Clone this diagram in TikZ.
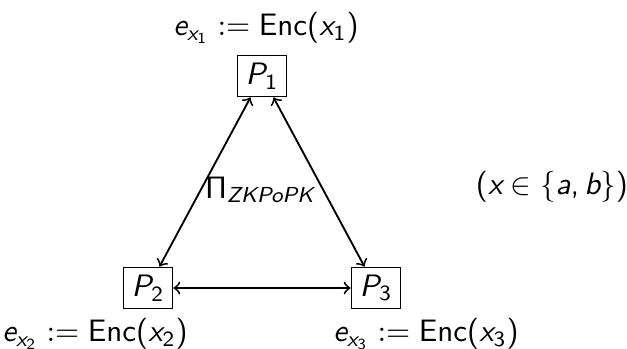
\documentclass[tikz,border=0pt]{standalone}
\usepackage{amsmath}
\newcommand{\sv}[1]{\text{\sffamily\slshape #1}}
\newcommand{\sd}[1]{\text{\sffamily #1}}
\begin{document}
\begin{tikzpicture}[x=0.3226pt,y=-0.3226pt,
  party/.style={draw,line width=0.4pt,minimum width=16pt,minimum height=13.4pt,inner sep=0pt},
  lbl/.style={inner sep=0pt,font=\sffamily},
  conn/.style={<->,semithick}]
\useasboundingbox (0,0) rectangle (627,348);
\node[party] (p1) at (262,76) {$\sv{P}_{\sd{1}}$};
\node[party] (p2) at (148,288) {$\sv{P}_{\sd{2}}$};
\node[party] (p3) at (376,288) {$\sv{P}_{\sd{3}}$};
\node[lbl] (l1) at (266,28) {$\sv{e}_{\sv{x}_{\sd{1}}} := \sd{Enc(}\sv{x}_{\sd{1}}\sd{)}$};
\node[lbl] (l2) at (95,334) {$\sv{e}_{\sv{x}_{\sd{2}}} := \sd{Enc(}\sv{x}_{\sd{2}}\sd{)}$};
\node[lbl] (l3) at (426,334) {$\sv{e}_{\sv{x}_{\sd{3}}} := \sd{Enc(}\sv{x}_{\sd{3}}\sd{)}$};
\node[lbl] (pi) at (260,190) {$\mathsf{\Pi}_{\sv{ZKPoPK}}$};
\node[lbl] (xs) at (552,187) {$\sd{(}\sv{x} \in \{\sv{a}\sd{,}\,\sv{b}\}\sd{)}$};
\draw[conn] (p1) -- (p2);
\draw[conn] (p1) -- (p3);
\draw[conn] (p2) -- (p3);
\end{tikzpicture}
\end{document}
